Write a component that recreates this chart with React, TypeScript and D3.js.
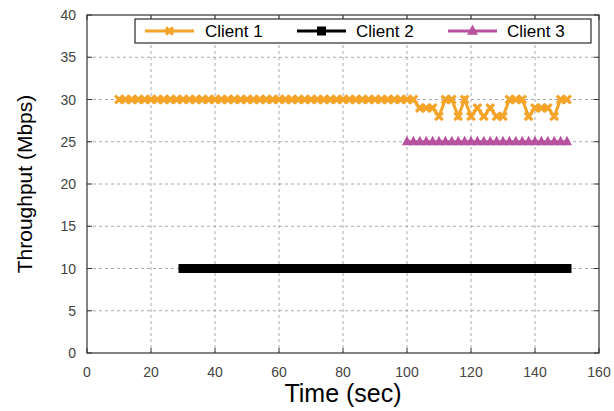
import React from "react";
import * as d3 from "d3";

const client1Times = d3.range(10, 151, 2);
const client1Values = [
  30, 30, 30, 30, 30, 30, 30, 30, 30, 30, // 10-28
  30, 30, 30, 30, 30, 30, 30, 30, 30, 30, // 30-48
  30, 30, 30, 30, 30, 30, 30, 30, 30, 30, // 50-68
  30, 30, 30, 30, 30, 30, 30, 30, 30, 30, // 70-88
  30, 30, 30, 30, 30, 30, 30, 29, 29, 29, // 90-108
  28, 30, 30, 28, 30, 28, 29, 28, 29, 28, // 110-128
  28, 30, 30, 30, 28, 29, 29, 29, 28, 30, // 130-148
  30, // 150
];
const client2Times = d3.range(30, 151, 2);
const client2Values = client2Times.map(() => 10);
const client3Times = d3.range(100, 151, 2);
const client3Values = client3Times.map(() => 25);

const xTicks = [0, 20, 40, 60, 80, 100, 120, 140, 160];
const yTicks = [0, 5, 10, 15, 20, 25, 30, 35, 40];
const seriesNames = ["Client 1", "Client 2", "Client 3"];

const W = 614, H = 411;
const M = { left: 87, right: 599, top: 15, bottom: 353 };
const ORANGE = "#F5A42A";
const PURPLE = "#B8529F";
const FONT = "Liberation Sans, Arial, sans-serif";

export default function App() {
  const x = d3.scaleLinear().domain([0, 160]).range([M.left, M.right]);
  const y = d3.scaleLinear().domain([0, 40]).range([M.bottom, M.top]);
  const line = d3.line<[number, number]>().x((d) => x(d[0])).y((d) => y(d[1]));
  const c1 = client1Times.map((t, i) => [t, client1Values[i]] as [number, number]);
  const c2 = client2Times.map((t, i) => [t, client2Values[i]] as [number, number]);
  const c3 = client3Times.map((t, i) => [t, client3Values[i]] as [number, number]);

  const cross = (cx: number, cy: number, s: number, key: any) => (
    <path key={key} d={`M${cx - s},${cy - s}L${cx + s},${cy + s}M${cx - s},${cy + s}L${cx + s},${cy - s}`} stroke={ORANGE} strokeWidth={3.2} fill="none" />
  );
  const square = (cx: number, cy: number, s: number, key: any) => (
    <rect key={key} x={cx - s} y={cy - s} width={2 * s} height={2 * s} fill="#000" />
  );
  const tri = (cx: number, cy: number, s: number, key: any) => (
    <path key={key} d={`M${cx},${cy - s * 1.2}L${cx + s},${cy + s * 0.7}L${cx - s},${cy + s * 0.7}Z`} fill={PURPLE} />
  );

  const legendY = 31;
  const legendItems = [
    { x1: 145, x2: 194, tx: 205, color: ORANGE, marker: (cx: number) => cross(cx, legendY, 3.5, "l1") },
    { x1: 297, x2: 346, tx: 356, color: "#000", marker: (cx: number) => square(cx, legendY, 4.5, "l2") },
    { x1: 448, x2: 497, tx: 507, color: PURPLE, marker: (cx: number) => tri(cx, legendY, 5.5, "l3") },
  ];

  return (
    <svg width={W} height={H} style={{ position: "absolute", left: 0, top: 0, background: "#fff" }}>
      <rect x={0} y={0} width={W} height={H} fill="#fff" />
      {/* grid */}
      <g stroke="#aaa" strokeWidth={1} strokeDasharray="3,3">
        {xTicks.slice(1, -1).map((t) => (
          <line key={"gx" + t} x1={x(t)} x2={x(t)} y1={M.top} y2={M.bottom} />
        ))}
        {yTicks.slice(1, -1).map((t) => (
          <line key={"gy" + t} x1={M.left} x2={M.right} y1={y(t)} y2={y(t)} />
        ))}
      </g>
      {/* ticks */}
      <g stroke="#333" strokeWidth={1}>
        {xTicks.map((t) => (
          <g key={"tx" + t}>
            <line x1={x(t)} x2={x(t)} y1={M.bottom} y2={M.bottom - 5} />
            <line x1={x(t)} x2={x(t)} y1={M.top} y2={M.top + 5} />
          </g>
        ))}
        {yTicks.map((t) => (
          <g key={"ty" + t}>
            <line x1={M.left} x2={M.left + 5} y1={y(t)} y2={y(t)} />
            <line x1={M.right} x2={M.right - 5} y1={y(t)} y2={y(t)} />
          </g>
        ))}
      </g>
      {/* data */}
      <path d={line(c2) || ""} stroke="#000" strokeWidth={3} fill="none" />
      {c2.map((d, i) => square(x(d[0]), y(d[1]), 4.5, "s" + i))}
      <path d={line(c3) || ""} stroke={PURPLE} strokeWidth={3} fill="none" />
      {c3.map((d, i) => tri(x(d[0]), y(d[1]), 5, "t" + i))}
      <path d={line(c1) || ""} stroke={ORANGE} strokeWidth={3} fill="none" />
      {c1.map((d, i) => cross(x(d[0]), y(d[1]), 3.8, "c" + i))}
      {/* frame */}
      <rect x={M.left} y={M.top} width={M.right - M.left} height={M.bottom - M.top} fill="none" stroke="#333" strokeWidth={1.2} />
      {/* tick labels */}
      <g fontFamily={FONT} fontSize={14} fill="#444">
        {xTicks.map((t) => (
          <text key={"lx" + t} x={x(t)} y={377} textAnchor="middle">{t}</text>
        ))}
        {yTicks.map((t) => (
          <text key={"ly" + t} x={76} y={y(t) + 5} textAnchor="end">{t}</text>
        ))}
      </g>
      {/* axis titles */}
      <text x={x(80)} y={402} textAnchor="middle" fontFamily={FONT} fontSize={25} fill="#000">Time (sec)</text>
      <text transform={`translate(32,${y(20)}) rotate(-90)`} textAnchor="middle" fontFamily={FONT} fontSize={21} fill="#000">Throughput (Mbps)</text>
      {/* legend */}
      <rect x={135} y={19} width={456} height={24} fill="#fff" stroke="#000" strokeWidth={1} />
      {legendItems.map((it, i) => (
        <g key={"leg" + i}>
          <line x1={it.x1} x2={it.x2} y1={legendY} y2={legendY} stroke={it.color} strokeWidth={3} />
          {it.marker((it.x1 + it.x2) / 2)}
          <text x={it.tx} y={legendY + 6} fontFamily={FONT} fontSize={17} fill="#000">{seriesNames[i]}</text>
        </g>
      ))}
    </svg>
  );
}
